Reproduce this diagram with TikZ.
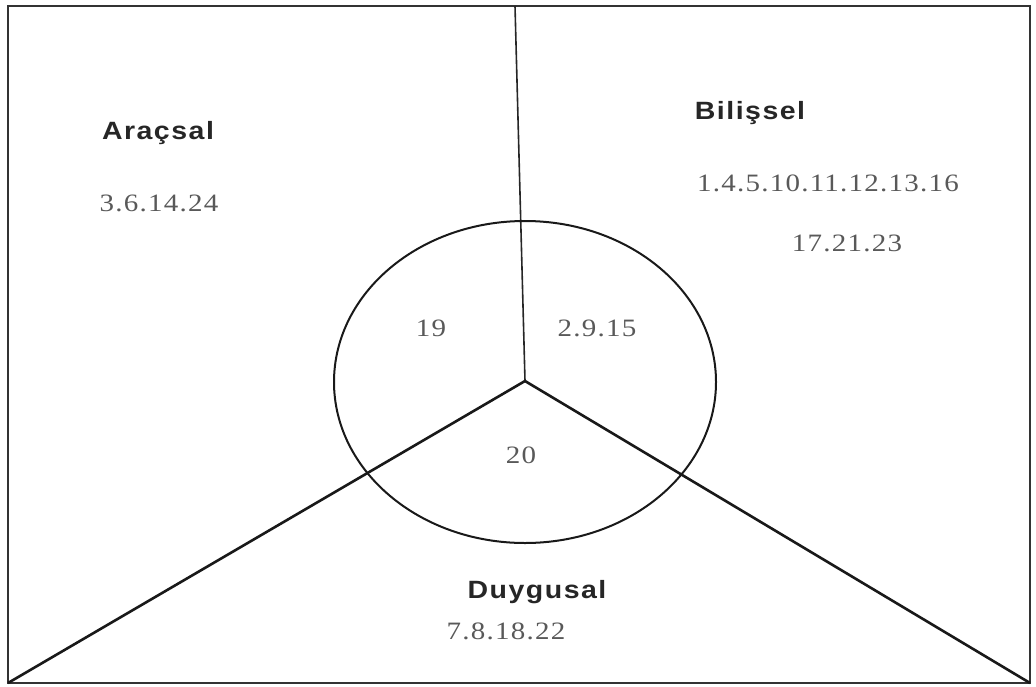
\documentclass[tikz,border=0pt]{standalone}
\usepackage{fontspec}
\usetikzlibrary{shapes.geometric}
\setmainfont{Liberation Serif}
\newfontfamily\labfont[LetterSpace=6,FakeStretch=1.14]{Liberation Sans}
\newfontfamily\numfont[LetterSpace=5,FakeStretch=1.16]{Liberation Serif}
\begin{document}
\begin{tikzpicture}[x=1pt,y=-1pt,
  lab/.style={font=\labfont\fontsize{25}{30}\selectfont\bfseries, text=black!85},
  num/.style={font=\numfont\fontsize{25}{30}\selectfont, text=black!65},
  edge/.style={line width=2.6pt, black!90}]
\useasboundingbox (0,0) rectangle (1036,686);
\coordinate (tl) at (8,6);
\coordinate (tr) at (1030,6);
\coordinate (bl) at (8,683);
\coordinate (br) at (1030,683);
\coordinate (c) at (525,381);
\coordinate (top) at (515,6);
\draw[line width=1.8pt, black!80] (tl) rectangle (br);
\draw[line width=1.6pt, black!85] (top) -- (c);
\draw[edge] (c) -- (bl);
\draw[edge] (c) -- (br);
\node[draw, line width=2pt, black!90, ellipse, minimum width=382pt, minimum height=322pt, inner sep=0pt] (circ) at (525,382) {};
\node[lab] (a) at (158,133) {Araçsal};
\node[num] (an) at (159,203) {3.6.14.24};
\node[lab] (b) at (750,113) {Bilişsel};
\node[num] (bn1) at (828,183) {1.4.5.10.11.12.13.16};
\node[num] (bn2) at (847,243) {17.21.23};
\node[num] (n19) at (431,328) {19};
\node[num] (n29) at (597,328) {2.9.15};
\node[num] (n20) at (521,455) {20};
\node[lab] (d) at (537,592) {Duygusal};
\node[num] (dn) at (506,631) {7.8.18.22};
\end{tikzpicture}
\end{document}
